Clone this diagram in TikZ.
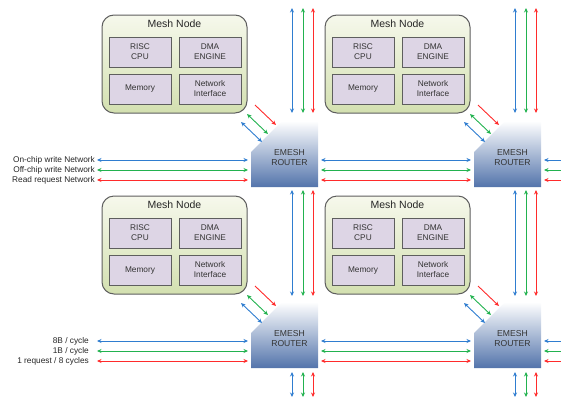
\documentclass[tikz,border=0pt]{standalone}
\usepackage{fontspec}
\setmainfont{Liberation Sans}
\usetikzlibrary{positioning,arrows.meta}
\definecolor{meshtop}{HTML}{F6F8EC}
\definecolor{meshbot}{HTML}{D3E0B0}
\definecolor{unitfill}{HTML}{DDD5E5}
\definecolor{edgegray}{HTML}{5E5E5E}
\definecolor{routerblue}{HTML}{5374AB}
\definecolor{netblue}{HTML}{2F7DD0}
\definecolor{netgreen}{HTML}{22B24F}
\definecolor{netred}{HTML}{FF2B2B}
\tikzset{
  meshbox/.style={draw=edgegray, line width=1pt, rounded corners=12pt,
    top color=meshtop, bottom color=meshbot,
    minimum width=145pt, minimum height=98pt, inner sep=0pt, outer sep=0pt},
  unitbox/.style={draw=edgegray, line width=.8pt, fill=unitfill,
    minimum width=62pt, minimum height=30pt, inner sep=0pt, outer sep=0pt,
    align=center, text=black!80, font=\fontsize{8.3}{10}\selectfont},
  router/.style={minimum width=67pt, minimum height=66pt, inner sep=0pt, outer sep=0pt},
  bus/.style={line width=.9pt, <->},
  netlabel/.style={inner sep=0pt, text=black!85, font=\fontsize{8.3}{10}\selectfont},
}
\newcommand{\meshtitle}{Mesh Node}
\newcommand{\routername}{EMESH\\ROUTER}

\begin{document}
\begin{tikzpicture}[x=1pt, y=-1pt, >={Stealth[length=4.5pt,width=4pt]}]
  \useasboundingbox (0,0) rectangle (561,399);

  % Tiles
  \foreach \dx/\dy/\tile in {0/0/a, 223/0/b, 0/181/c, 223/181/d} {
    \begin{scope}[shift={(\dx,\dy)}]
      \node[meshbox] (mesh\tile) at (174.5,64) {};
      \node[below=5pt of mesh\tile.north, inner sep=0pt, font=\fontsize{10.5}{12}\selectfont, text=black!85] (title\tile) {\meshtitle};
      \node[unitbox] (cpu\tile) at (140,52) {RISC\\CPU};
      \node[unitbox, right=8pt of cpu\tile] (dma\tile) {DMA\\ENGINE};
      \node[unitbox, below=7pt of cpu\tile] (mem\tile) {Memory};
      \node[unitbox, right=8pt of mem\tile] (ni\tile) {Network\\Interface};

      \node[router] (router\tile) at (284.5,154) {};
      \shade[top color=white, bottom color=routerblue] ([yshift=-31pt]router\tile.north west) -- ([xshift=31pt]router\tile.north west) -- (router\tile.north east) -- (router\tile.south east) -- (router\tile.south west) -- cycle;
      \node[align=center, inner sep=0pt, text=black!80, font=\fontsize{8.6}{10}\selectfont] (rtext\tile) at ([xshift=5pt,yshift=-4pt]router\tile.center) {\routername};

      % Node to router
      \draw[bus, netblue] ([shift={(-10pt,-1pt)}]router\tile.north west) -- ([shift={(11pt,-21pt)}]router\tile.north west);
      \draw[bus, netgreen] ([shift={(-4pt,7pt)}]router\tile.north west) -- ([shift={(17pt,-13pt)}]router\tile.north west);
      \draw[line width=.9pt, ->, netred] ([shift={(4pt,16pt)}]router\tile.north west) -- ([shift={(25pt,-4pt)}]router\tile.north west);
    \end{scope}
  }

  % Labels
  \node[netlabel, anchor=east] (onchip) at (95,160) {On-chip write Network};
  \node[netlabel, anchor=east] (offchip) at (95,170) {Off-chip write Network};
  \node[netlabel, anchor=east] (readreq) at (95,180) {Read request Network};
  \node[netlabel, anchor=east] (bw8) at (89,341) {8B / cycle};
  \node[netlabel, anchor=east] (bw1) at (89,351) {1B / cycle};
  \node[netlabel, anchor=east] (reqrate) at (89,361) {1 request / 8 cycles};

  \draw[bus, netblue, shorten >=3pt] ([xshift=2pt]onchip.east) -- (onchip.east -| routera.west);
  \draw[bus, netgreen, shorten >=3pt] ([xshift=2pt]offchip.east) -- (offchip.east -| routera.west);
  \draw[bus, netred, shorten >=3pt] ([xshift=2pt]readreq.east) -- (readreq.east -| routera.west);
  \draw[bus, netblue, shorten >=3pt] ([xshift=8pt]bw8.east) -- (bw8.east -| routerc.west);
  \draw[bus, netgreen, shorten >=3pt] ([xshift=8pt]bw1.east) -- (bw1.east -| routerc.west);
  \draw[bus, netred, shorten >=3pt] ([xshift=8pt]reqrate.east) -- (reqrate.east -| routerc.west);

  % Links
  \foreach \col/\yo/\xo in {netblue/27/-26, netgreen/17/-15, netred/7/-5} {
    \draw[bus, \col] ([xshift=3pt,yshift=\yo pt]routera.south east) -- ([xshift=-3pt,yshift=\yo pt]routerb.south west);
    \draw[bus, \col] ([xshift=3pt,yshift=\yo pt]routerc.south east) -- ([xshift=-3pt,yshift=\yo pt]routerd.south west);
    \draw[line width=.9pt, <-, \col] ([xshift=3pt,yshift=\yo pt]routerb.south east) -- ([xshift=30pt,yshift=\yo pt]routerb.south east);
    \draw[line width=.9pt, <-, \col] ([xshift=3pt,yshift=\yo pt]routerd.south east) -- ([xshift=30pt,yshift=\yo pt]routerd.south east);

    \draw[bus, \col] ([xshift=\xo pt,yshift=8pt]routera.north east) -- ([xshift=\xo pt,yshift=113pt]routera.north east);
    \draw[bus, \col] ([xshift=\xo pt,yshift=8pt]routerb.north east) -- ([xshift=\xo pt,yshift=113pt]routerb.north east);
    \draw[bus, \col] ([xshift=\xo pt,yshift=-3pt]routera.south east) -- ([xshift=\xo pt,yshift=6pt]routerc.north east);
    \draw[bus, \col] ([xshift=\xo pt,yshift=-3pt]routerb.south east) -- ([xshift=\xo pt,yshift=6pt]routerd.north east);
    \draw[bus, \col] ([xshift=\xo pt,yshift=-4pt]routerc.south east) -- ([xshift=\xo pt,yshift=-29pt]routerc.south east);
    \draw[bus, \col] ([xshift=\xo pt,yshift=-4pt]routerd.south east) -- ([xshift=\xo pt,yshift=-29pt]routerd.south east);
  }
\end{tikzpicture}
\end{document}
